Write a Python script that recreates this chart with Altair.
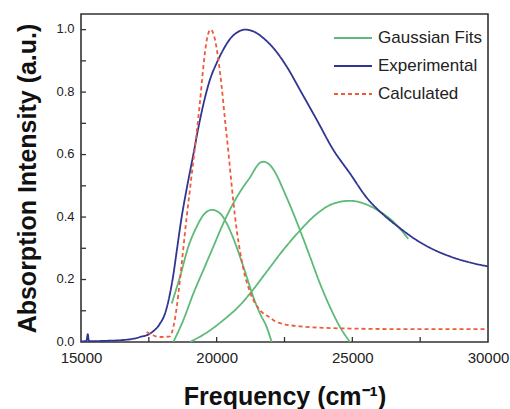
import altair as alt
import pandas as pd

# ---------------- data ----------------
exp_x = [15000, 15200, 15250, 15290, 15600, 16000, 16500, 16900, 17174, 17543,
         17911, 18096, 18280, 18403, 18526, 18710, 18894, 19140, 19324,
         19508, 19754, 20000, 20245, 20491, 20737, 21044, 21474, 21720, 22090,
         22580, 23070, 23690, 24300, 24910, 25530, 26140, 26760, 27370, 27990,
         28600, 29220, 30000]
exp_y = [0.002, 0.003, 0.025, 0.003, 0.003, 0.004, 0.006, 0.010, 0.016, 0.027,
         0.059, 0.091, 0.155, 0.215, 0.290, 0.400, 0.490, 0.600, 0.685,
         0.760, 0.840, 0.893, 0.936, 0.970, 0.990, 1.000, 0.989, 0.973, 0.941,
         0.882, 0.807, 0.711, 0.615, 0.540, 0.462, 0.408, 0.364, 0.326, 0.296,
         0.274, 0.257, 0.242]

calc_x = [17420, 17911, 18280, 18403, 18526, 18649, 18771, 18894, 19017, 19140,
          19263, 19386, 19508, 19631, 19779, 19939, 20061, 20184, 20307, 20430,
          20520, 20614, 20737, 20860, 20982, 21228, 21597, 21966, 22211, 23071,
          24914, 27494, 30000]
calc_y = [0.032, 0.016, 0.018, 0.048, 0.110, 0.200, 0.300, 0.400, 0.490, 0.580,
          0.670, 0.770, 0.880, 0.965, 1.000, 0.968, 0.904, 0.818, 0.711, 0.610,
          0.530, 0.450, 0.360, 0.290, 0.235, 0.160, 0.102, 0.078, 0.064, 0.050,
          0.043, 0.041, 0.041]

g1_x = [18342, 18649, 18956, 19263, 19508, 19816, 20123, 20368, 20614, 20860,
        21106, 21351, 21597, 21843, 22027]
g1_y = [0.123, 0.209, 0.305, 0.369, 0.406, 0.423, 0.412, 0.380, 0.332, 0.273,
        0.209, 0.144, 0.091, 0.048, 0.000]

g2_x = [18403, 18771, 19140, 19508, 19877, 20245, 20614, 20983, 21228, 21475,
        21600, 21720, 21850, 22000, 22200, 22457, 22825, 23071, 23440, 23808,
        24177, 24545, 24914]
g2_y = [0.000, 0.070, 0.155, 0.230, 0.305, 0.380, 0.444, 0.497, 0.527, 0.562,
        0.574, 0.577, 0.574, 0.563, 0.536, 0.487, 0.412, 0.358, 0.273, 0.187,
        0.112, 0.048, 0.000]

g3_x = [19017, 19631, 20245, 20860, 21228, 21843, 22457, 23071, 23686, 24300,
        24914, 25528, 26019, 26510, 27064]
g3_y = [0.000, 0.030, 0.070, 0.118, 0.155, 0.225, 0.295, 0.357, 0.410, 0.443,
        0.452, 0.440, 0.417, 0.385, 0.330]

series_names = ["Gaussian Fits", "Experimental", "Calculated"]
series_colors = ["#5dba78", "#2f3590", "#ef5a3a"]

x_major = [15000, 20000, 25000, 30000]
x_minor = [17500, 20000, 22500, 25000, 27500]
y_major = [0.0, 0.2, 0.4, 0.6, 0.8, 1.0]
y_minor = [0.1, 0.2, 0.3, 0.4, 0.5, 0.6, 0.7, 0.8, 0.9, 1.0]

# ---------------- table ----------------
rows = []
for curve, series, xs, ys in [
    ("g1", "Gaussian Fits", g1_x, g1_y),
    ("g2", "Gaussian Fits", g2_x, g2_y),
    ("g3", "Gaussian Fits", g3_x, g3_y),
    ("exp", "Experimental", exp_x, exp_y),
    ("calc", "Calculated", calc_x, calc_y),
]:
    for i, (a, b) in enumerate(zip(xs, ys)):
        rows.append({"curve": curve, "series": series, "x": a, "y": b, "i": i})
df = pd.DataFrame(rows)

W, H = 407, 328
FONT = "Liberation Sans"

xscale = alt.Scale(domain=[15000, 30000], nice=False, zero=False)
yscale = alt.Scale(domain=[0, 1.05], nice=False, zero=False)

xaxis = alt.Axis(values=x_major, format="d", title="Frequency (cm⁻¹)",
                 grid=False, ticks=False, domain=False,
                 labelFontSize=15, labelColor="#222", labelPadding=8,
                 labelFont=FONT, titleFont=FONT, titleFontSize=25,
                 titleFontWeight="bold", titleColor="#111",
                 titleBaseline="alphabetic", titleY=62, titleX=W / 2,
                 labelFlush=False)
yaxis = alt.Axis(values=y_major, format=".1f",
                 title="Absorption Intensity (a.u.)",
                 grid=False, ticks=False, domain=False,
                 labelFontSize=13, labelColor="#222", labelPadding=7,
                 labelOffset=-1,
                 labelFont=FONT, titleFont=FONT, titleFontSize=25,
                 titleFontWeight="bold", titleColor="#111",
                 titleAngle=-90, titleBaseline="alphabetic",
                 titleAlign="center", titleX=-46, titleY=H / 2)

lines = alt.Chart(df).mark_line(strokeWidth=1.8, clip=True,
                                interpolate="monotone").encode(
    x=alt.X("x:Q", scale=xscale, axis=xaxis),
    y=alt.Y("y:Q", scale=yscale, axis=yaxis),
    color=alt.Color("series:N",
                    scale=alt.Scale(domain=series_names, range=series_colors),
                    sort=series_names,
                    legend=alt.Legend(title=None, orient="none", legendX=252,
                                      legendY=4, symbolType="stroke",
                                      symbolSize=1444, symbolStrokeWidth=2,
                                      labelFontSize=17, labelFont=FONT,
                                      labelColor="#222", labelOffset=5,
                                      rowPadding=-17)),
    strokeDash=alt.StrokeDash("series:N",
                              scale=alt.Scale(domain=series_names,
                                              range=[[1, 0], [1, 0], [4, 3]]),
                              sort=series_names,
                              legend=alt.Legend(title=None, orient="none",
                                                legendX=252, legendY=4)),
    detail="curve:N",
    order="i:Q",
)

xt = alt.Chart(pd.DataFrame({"x": x_minor})).mark_rule(
    color="#333", strokeWidth=1.3).encode(
    x=alt.X("x:Q", scale=xscale),
    y=alt.value(H), y2=alt.value(H - 5))

yt = alt.Chart(pd.DataFrame({"y": y_minor})).mark_rule(
    color="#333", strokeWidth=1.3).encode(
    y=alt.Y("y:Q", scale=yscale),
    x=alt.value(0), x2=alt.value(5))

chart = alt.layer(lines, xt, yt).properties(
    width=W, height=H,
    autosize=alt.AutoSizeParams(type="none"),
    padding={"left": 81, "top": 14, "right": 22, "bottom": 67},
    background="white",
).configure_view(stroke="#333", strokeWidth=1.6)

chart.save("out.html", embed_options={"renderer": "svg", "actions": False})
